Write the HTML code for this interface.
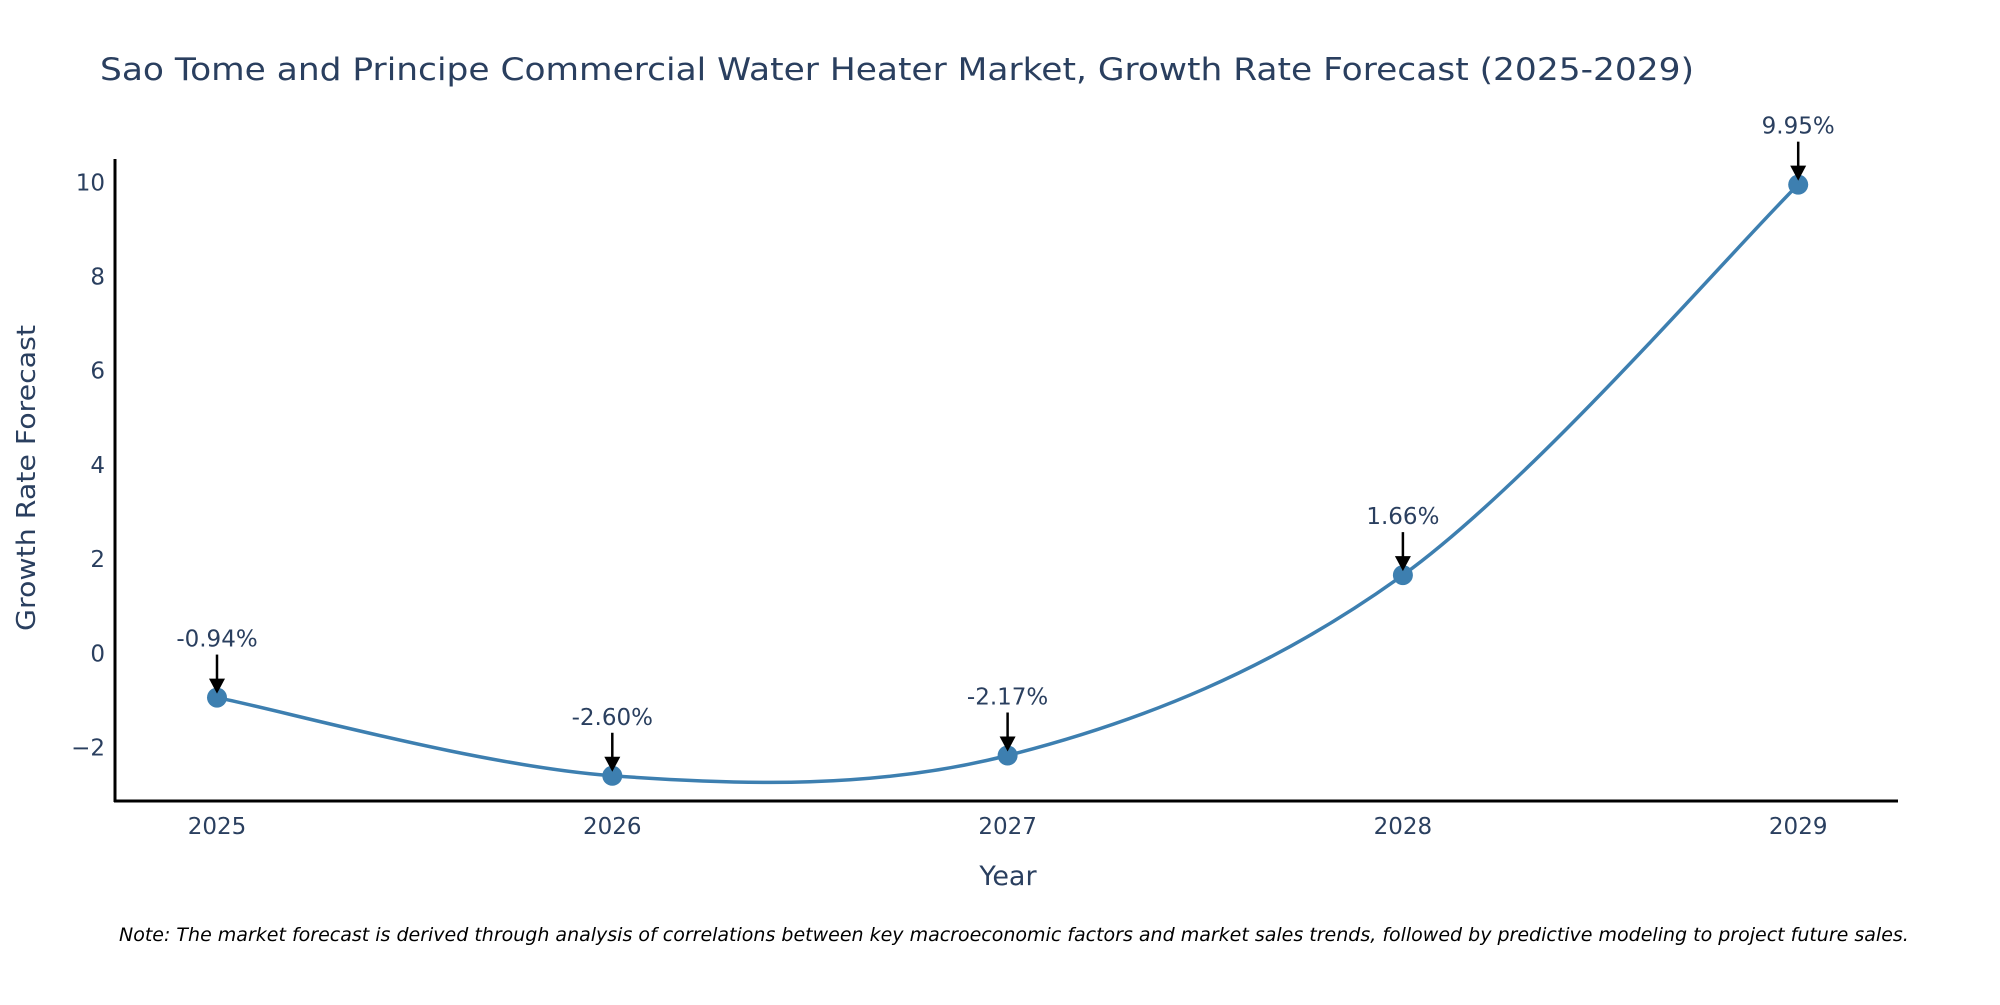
<!DOCTYPE html>
<html><head><meta charset="utf-8"><style>body{margin:0;background:#fff}svg{font-family:"DejaVu Sans","Liberation Sans",sans-serif}</style></head>
<body>
<svg id="chart" width="2000" height="1000" viewBox="0 0 2000 1000">
<text x="100" y="80" font-size="31" fill="#2a3f5f" textLength="1594" lengthAdjust="spacingAndGlyphs">Sao Tome and Principe Commercial Water Heater Market, Growth Rate Forecast (2025-2029)</text>
<g id="yt"></g>
<g id="xt"></g>
<line x1="115" y1="159" x2="115" y2="802" stroke="#000" stroke-width="3"/>
<line x1="114" y1="801" x2="1898" y2="801" stroke="#000" stroke-width="3"/>
<text transform="translate(35,478) rotate(-90)" text-anchor="middle" font-size="26" fill="#2a3f5f" textLength="306" lengthAdjust="spacingAndGlyphs">Growth Rate Forecast</text>
<text x="1008" y="885" text-anchor="middle" font-size="27" fill="#2a3f5f">Year</text>
<path id="line" fill="none" stroke="#3d7fb0" stroke-width="3.5"/>
<g id="marks"></g>
<text x="119" y="941" font-size="19" font-style="italic" fill="#000">Note: The market forecast is derived through analysis of correlations between key macroeconomic factors and market sales trends, followed by predictive modeling to project future sales.</text>
</svg>
<script>
const years=[2025,2026,2027,2028,2029];
const values=[-0.94,-2.60,-2.17,1.66,9.95];
const labels=["-0.94%","-2.60%","-2.17%","1.66%","9.95%"];
const yTicks=[-2,0,2,4,6,8,10];
const yTickLabels=["\u22122","0","2","4","6","8","10"];
const NS="http://www.w3.org/2000/svg";
const X=v=>217+(v-2025)*395.3;
const Y=v=>653.3-v*47.1;
function mk(t,a,p){const e=document.createElementNS(NS,t);for(const k in a)e.setAttribute(k,a[k]);p.appendChild(e);return e;}
const yt=document.getElementById('yt'),xt=document.getElementById('xt'),mg=document.getElementById('marks');
yTicks.forEach((v,i)=>{const t=mk('text',{x:105,y:Y(v)+8,'text-anchor':'end','font-size':23,fill:'#2a3f5f'},yt);t.textContent=yTickLabels[i];

});
years.forEach(v=>{const t=mk('text',{x:X(v),y:834,'text-anchor':'middle','font-size':23,fill:'#2a3f5f'},xt);t.textContent=v;

});
const pts=years.map((y,i)=>[X(y),Y(values[i])]);
let d=`M${pts[0][0]},${pts[0][1]}`;
for(let i=0;i<pts.length-1;i++){const p0=pts[Math.max(0,i-1)],p1=pts[i],p2=pts[i+1],p3=pts[Math.min(pts.length-1,i+2)],s=6;
d+=` C${p1[0]+(p2[0]-p0[0])/s},${p1[1]+(p2[1]-p0[1])/s} ${p2[0]-(p3[0]-p1[0])/s},${p2[1]-(p3[1]-p1[1])/s} ${p2[0]},${p2[1]}`;}
document.getElementById('line').setAttribute('d',d);
pts.forEach((p,i)=>{const c=mk('circle',{cx:p[0],cy:p[1],r:10,fill:'#3d7fb0'},mg);


const l=mk('line',{x1:p[0],y1:p[1]-43,x2:p[0],y2:p[1]-18,stroke:'#000','stroke-width':2.5},mg);


const h=mk('polygon',{points:`${p[0]-8},${p[1]-19} ${p[0]+8},${p[1]-19} ${p[0]},${p[1]-4}`,fill:'#000'},mg);


const t=mk('text',{x:p[0],y:p[1]-51,'text-anchor':'middle','font-size':23,fill:'#2a3f5f'},mg);t.textContent=labels[i];

});
</script>
</body></html>
